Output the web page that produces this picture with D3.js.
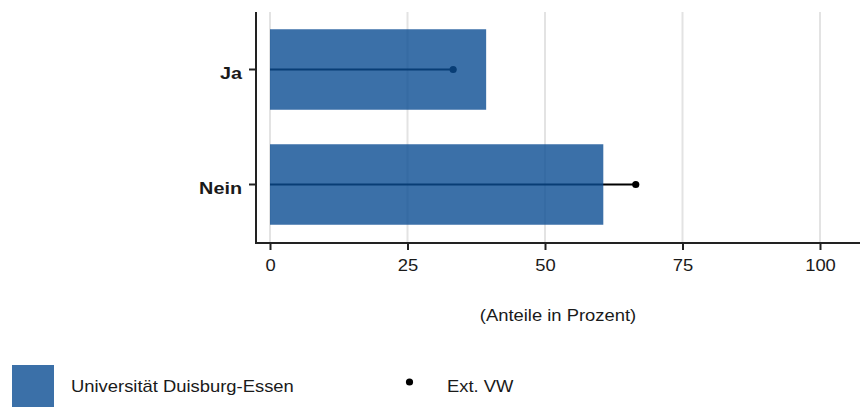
<!DOCTYPE html>
<html><head><meta charset="utf-8">
<script src="https://cdn.jsdelivr.net/npm/d3@7"></script>
<style>body{margin:0;background:#fff}svg{display:block;font-family:"Liberation Sans",Arial,sans-serif}</style>
</head><body><svg id="c" width="863" height="409"></svg>
<script>
const categories = ["Ja", "Nein"];
const udeValues = [39.3, 60.6];
const extValues = [33.3, 66.5];
const xTicks = [0, 25, 50, 75, 100];
const xTitle = "(Anteile in Prozent)";
const legendLabels = ["Universität Duisburg-Essen", "Ext. VW"];

const SX = 1.15;
const svg = d3.select("#c");
const x = d3.scaleLinear().domain([0, 100]).range([270, 820]);
const y = d3.scaleBand().domain(categories).range([12, 242]).paddingInner(0.3).paddingOuter(0.15);

function stext(parent, X, Y, str, anchor, size, weight, sx) {
  sx = sx || SX;
  return parent.append("text").attr("transform", `scale(${sx},1)`)
    .attr("x", X / sx).attr("y", Y).attr("text-anchor", anchor || "start")
    .attr("font-size", size).attr("font-weight", weight || "normal")
    .attr("fill", "#1a1a1a").text(str);
}

// grid
svg.append("g").selectAll("line").data(xTicks).join("line")
  .attr("x1", d => x(d)).attr("x2", d => x(d)).attr("y1", 12).attr("y2", 242)
  .attr("stroke", "#e3e3e3").attr("stroke-width", 2);

// lines + points (drawn under bars)
const g = svg.append("g");
g.selectAll("line").data(categories).join("line")
  .attr("x1", x(0)).attr("x2", (d, i) => x(extValues[i]))
  .attr("y1", d => y(d) + y.bandwidth() / 2).attr("y2", d => y(d) + y.bandwidth() / 2)
  .attr("stroke", "#000").attr("stroke-width", 2);
g.selectAll("circle").data(categories).join("circle")
  .attr("cx", (d, i) => x(extValues[i])).attr("cy", d => y(d) + y.bandwidth() / 2)
  .attr("r", 3.6).attr("fill", "#000");

// bars
svg.append("g").selectAll("rect").data(categories).join("rect")
  .attr("x", x(0)).attr("y", d => y(d))
  .attr("width", (d, i) => x(udeValues[i]) - x(0)).attr("height", y.bandwidth())
  .attr("fill", "#0a4c92").attr("fill-opacity", 0.8);

// x axis
const xa = svg.append("g").attr("transform", "translate(0,243)")
  .call(d3.axisBottom(x).tickValues(xTicks).tickSize(7).tickFormat(d3.format("d")));
xa.select(".domain").remove();
xa.selectAll("line").attr("stroke", "#222").attr("stroke-width", 2);
xa.selectAll("text").attr("y", 27.7).attr("dy", 0).attr("font-size", 16)
  .attr("transform", `scale(${SX},1)`)
  .attr("fill", "#1a1a1a").attr("font-family", "Liberation Sans, Arial, sans-serif");
svg.append("line").attr("x1", 256).attr("x2", 860).attr("y1", 243).attr("y2", 243).attr("stroke", "#222").attr("stroke-width", 2);

// y axis
const YSX = 1.2;
const ya = svg.append("g").attr("transform", "translate(256,0)")
  .call(d3.axisLeft(y).tickSize(7));
ya.select(".domain").remove();
ya.selectAll("line").attr("stroke", "#222").attr("stroke-width", 2);
ya.selectAll("text").attr("x", -14 / YSX).attr("dy", 0).attr("y", 9.8)
  .attr("transform", `scale(${YSX},1)`)
  .attr("font-size", 16.5).attr("font-weight", "bold").attr("fill", "#1a1a1a")
  .attr("font-family", "Liberation Sans, Arial, sans-serif");
svg.append("line").attr("x1", 256).attr("x2", 256).attr("y1", 12).attr("y2", 244).attr("stroke", "#222").attr("stroke-width", 2);

// x title
stext(svg, 558, 321, xTitle, "middle", 16);

// legend
svg.append("rect").attr("x", 12).attr("y", 365).attr("width", 42).attr("height", 42)
  .attr("fill", "#0a4c92").attr("fill-opacity", 0.8);
stext(svg, 71, 392.5, legendLabels[0], "start", 16);
svg.append("circle").attr("cx", 409.5).attr("cy", 382).attr("r", 3.6).attr("fill", "#000");
stext(svg, 447, 392.5, legendLabels[1], "start", 16);
</script></body></html>
